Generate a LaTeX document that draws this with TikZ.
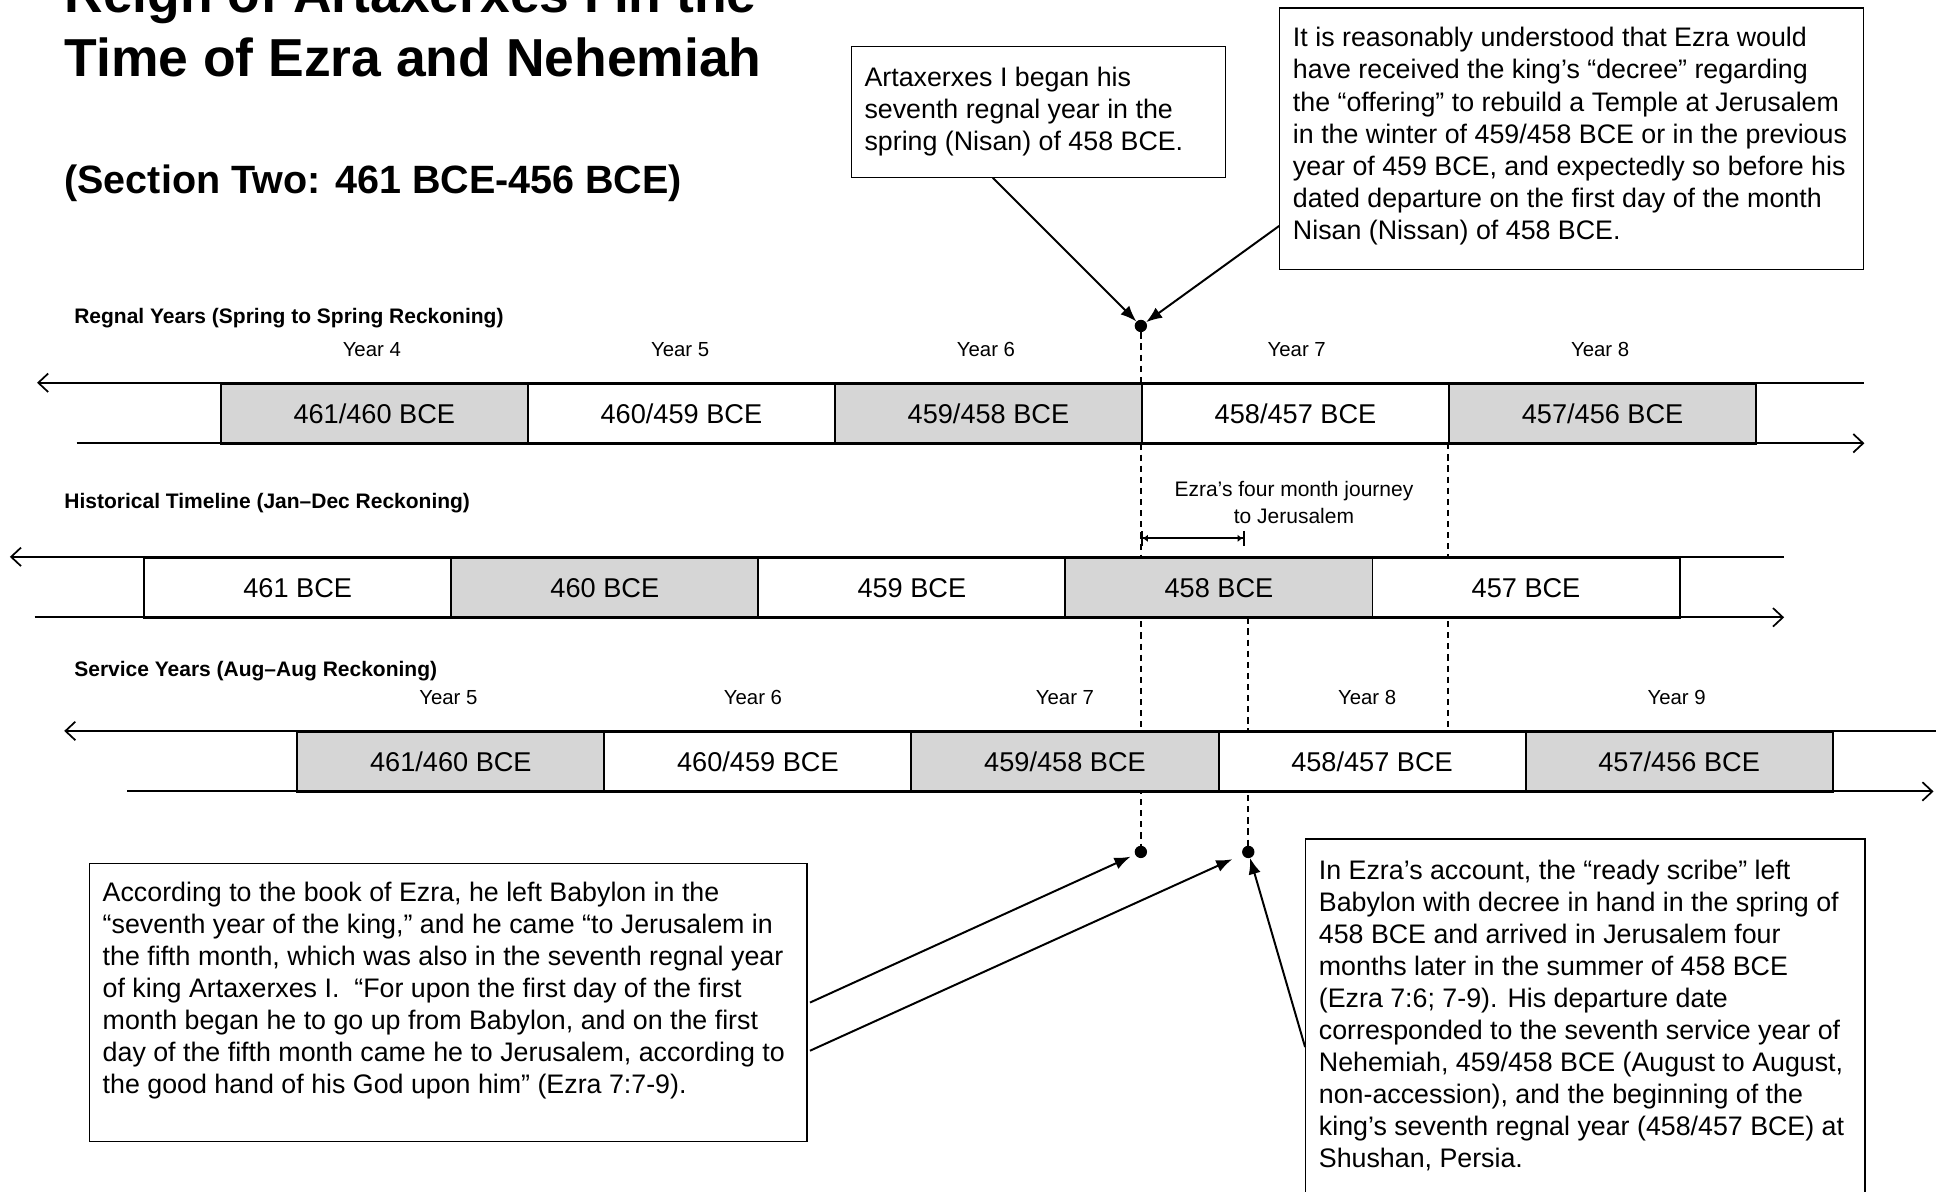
\documentclass[tikz,border=0pt]{standalone}
\usepackage{fontspec}
\setmainfont{Liberation Sans}
\usetikzlibrary{arrows.meta,calc}
\definecolor{cellgray}{HTML}{D6D6D6}
\begin{document}
\begin{tikzpicture}[x=1pt,y=-1pt,
  cell/.style={draw, line width=1.6pt, minimum width=248.7pt, minimum height=49pt, inner sep=0pt, anchor=north west, font=\fontsize{22}{26}\selectfont, text height=15.8pt, text depth=0pt},
  gcell/.style={cell, fill=cellgray},
  wcell/.style={cell, fill=white},
  yearlbl/.style={font=\fontsize{16.5}{20}\selectfont, inner sep=0pt, text height=11.9pt, text depth=0pt},
  rowlbl/.style={font=\fontsize{17}{20}\selectfont\bfseries, inner sep=0pt, anchor=base west},
  tline/.style={line width=1.6pt},
  lefttip/.style={tline, {Straight Barb[length=8pt,width=15pt,line width=1.4pt]}-},
  righttip/.style={tline, -{Straight Barb[length=8pt,width=15pt,line width=1.4pt]}},
  dashline/.style={line width=1.5pt, dash pattern=on 5pt off 4pt},
  dot/.style={circle, fill=black, minimum size=10pt, inner sep=0pt},
  callbox/.style={draw, line width=1pt, anchor=north west, inner sep=0pt},
  calltext/.style={anchor=north west, inner sep=0pt, align=left, font=\fontsize{21.7}{26}\selectfont},
  callarrow/.style={line width=1.6pt, -{Latex[length=13pt,width=10pt]}}
]
\useasboundingbox (0,0) rectangle (1568,965);
\fill[white] (0,0) rectangle (1568,965);

% titles
\node[anchor=base west, inner sep=0pt, font=\fontsize{43.3}{52}\selectfont\bfseries] (t1) at (52,10) {Reign of Artaxerxes I in the};
\node[anchor=base west, inner sep=0pt, font=\fontsize{43.3}{52}\selectfont\bfseries] (t2) at (52,62) {Time of Ezra and Nehemiah};
\node[anchor=base west, inner sep=0pt, font=\fontsize{32}{38}\selectfont\bfseries] (t3) at (52,157) {(Section Two: 461 BCE-456 BCE)};

% dots and dashed guides
\node[dot] (d1) at (924,264) {};
\node[dot] (d2) at (924,690) {};
\node[dot] (d3) at (1011,690) {};
\coordinate (j1) at (1011,500);
\coordinate (k1) at (1173,359);
\coordinate (k2) at (1173,592);
\draw[dashline] (d1) -- (d2);
\draw[dashline] (j1) -- (d3);
\draw[dashline] (k1) -- (k2);

% row labels
\node[rowlbl] (l1) at (60,262) {Regnal Years (Spring to Spring Reckoning)};
\node[rowlbl] (l2) at (52,412) {Historical Timeline (Jan--Dec Reckoning)};
\node[rowlbl] (l3) at (60,548) {Service Years (Aug--Aug Reckoning)};

% row 1 : regnal years
\node[gcell] (r1c1) at (178,310) {461/460 BCE};
\node[wcell] (r1c2) at (426.7,310) {460/459 BCE};
\node[gcell] (r1c3) at (675.4,310) {459/458 BCE};
\node[wcell] (r1c4) at (924.1,310) {458/457 BCE};
\node[gcell] (r1c5) at (1172.8,310) {457/456 BCE};
\coordinate (r1a) at (30,310);  \coordinate (r1b) at (1510,310);
\coordinate (r1c) at (62,359);  \coordinate (r1d) at (1510,359);
\draw[lefttip] (r1a) -- (r1b);
\draw[righttip] (r1c) -- (r1d);
\node[yearlbl] (y14) at ($(r1c1.north)+(-2,-27)$) {Year 4};
\node[yearlbl] (y15) at ($(r1c2.north)+(-1,-27)$) {Year 5};
\node[yearlbl] (y16) at ($(r1c3.north)+(-2,-27)$) {Year 6};
\node[yearlbl] (y17) at ($(r1c4.north)+(1,-27)$) {Year 7};
\node[yearlbl] (y18) at ($(r1c5.north)+(-2,-27)$) {Year 8};

% row 2 : historical
\node[wcell] (r2c1) at (116,451) {461 BCE};
\node[gcell] (r2c2) at (364.7,451) {460 BCE};
\node[wcell] (r2c3) at (613.4,451) {459 BCE};
\node[gcell] (r2c4) at (862.1,451) {458 BCE};
\node[wcell] (r2c5) at (1110.8,451) {457 BCE};
\coordinate (r2a) at (8,451);  \coordinate (r2b) at (1445,451);
\coordinate (r2c) at (28,500); \coordinate (r2d) at (1445,500);
\draw[lefttip] (r2a) -- (r2b);
\draw[righttip] (r2c) -- (r2d);

% journey
\node[font=\fontsize{17}{22}\selectfont, align=center, inner sep=0pt] (jl) at (1048,407) {Ezra’s four month journey\\to Jerusalem};
\coordinate (jb1) at (924,436); \coordinate (jb2) at (1008,436);
\draw[line width=1.6pt, {Bar[width=12pt]Latex[length=4pt,width=6pt]}-{Latex[length=4pt,width=6pt]Bar[width=12pt]}] (jb1) -- (jb2);

% row 3 : service years
\node[gcell] (r3c1) at (240,592) {461/460 BCE};
\node[wcell] (r3c2) at (488.7,592) {460/459 BCE};
\node[gcell] (r3c3) at (737.4,592) {459/458 BCE};
\node[wcell] (r3c4) at (986.1,592) {458/457 BCE};
\node[gcell] (r3c5) at (1234.8,592) {457/456 BCE};
\coordinate (r3a) at (52,592);  \coordinate (r3b) at (1568,592);
\coordinate (r3c) at (103,641); \coordinate (r3d) at (1566,641);
\draw[lefttip] (r3a) -- (r3b);
\draw[righttip] (r3c) -- (r3d);
\node[yearlbl] (y35) at ($(r3c1.north)+(-2,-27)$) {Year 5};
\node[yearlbl] (y36) at ($(r3c2.north)+(-4,-27)$) {Year 6};
\node[yearlbl] (y37) at ($(r3c3.north)+(0,-27)$) {Year 7};
\node[yearlbl] (y38) at ($(r3c4.north)+(-4,-27)$) {Year 8};
\node[yearlbl] (y39) at ($(r3c5.north)+(-2,-27)$) {Year 9};

% callout boxes
\node[callbox, minimum width=303pt, minimum height=106pt] (boxA) at (689,37) {};
\node[calltext] (txA) at (700,54) {Artaxerxes I began his\\seventh regnal year in the\\spring (Nisan) of 458 BCE.};

\node[callbox, minimum width=473pt, minimum height=212pt] (boxB) at (1036,6) {};
\node[calltext] (txB) at (1047,22) {It is reasonably understood that Ezra would\\have received the king’s “decree” regarding\\the “offering” to rebuild a Temple at Jerusalem\\in the winter of 459/458 BCE or in the previous\\year of 459 BCE, and expectedly so before his\\dated departure on the first day of the month\\Nisan (Nissan) of 458 BCE.};

\node[callbox, minimum width=581pt, minimum height=225pt] (boxC) at (72,699) {};
\node[calltext] (txC) at (83,714) {According to the book of Ezra, he left Babylon in the\\“seventh year of the king,” and he came “to Jerusalem in\\the fifth month, which was also in the seventh regnal year\\of king Artaxerxes I.\ \ “For upon the first day of the first\\month began he to go up from Babylon, and on the first\\day of the fifth month came he to Jerusalem, according to\\the good hand of his God upon him” (Ezra 7:7-9).};

\node[callbox, minimum width=453pt, minimum height=320pt] (boxD) at (1057,679) {};
\node[calltext] (txD) at (1068,696) {In Ezra’s account, the “ready scribe” left\\Babylon with decree in hand in the spring of\\458 BCE and arrived in Jerusalem four\\months later in the summer of 458 BCE\\(Ezra 7:6; 7-9). His departure date\\corresponded to the seventh service year of\\Nehemiah, 459/458 BCE (August to August,\\non-accession), and the beginning of the\\king’s seventh regnal year (458/457 BCE) at\\Shushan, Persia.};

% callout arrows
\draw[callarrow] ($(boxA.south west)+(115,0)$) -- (d1);
\draw[callarrow] ($(boxB.north west)+(0,177)$) -- (d1);
\draw[callarrow, shorten >=4pt] ($(boxC.north east)+(2,113)$) -- (d2);
\draw[callarrow, shorten >=9pt] ($(boxC.north east)+(2,152)$) -- (d3);
\draw[callarrow] ($(boxD.north west)+(0,169)$) -- (d3);
\end{tikzpicture}
\end{document}
